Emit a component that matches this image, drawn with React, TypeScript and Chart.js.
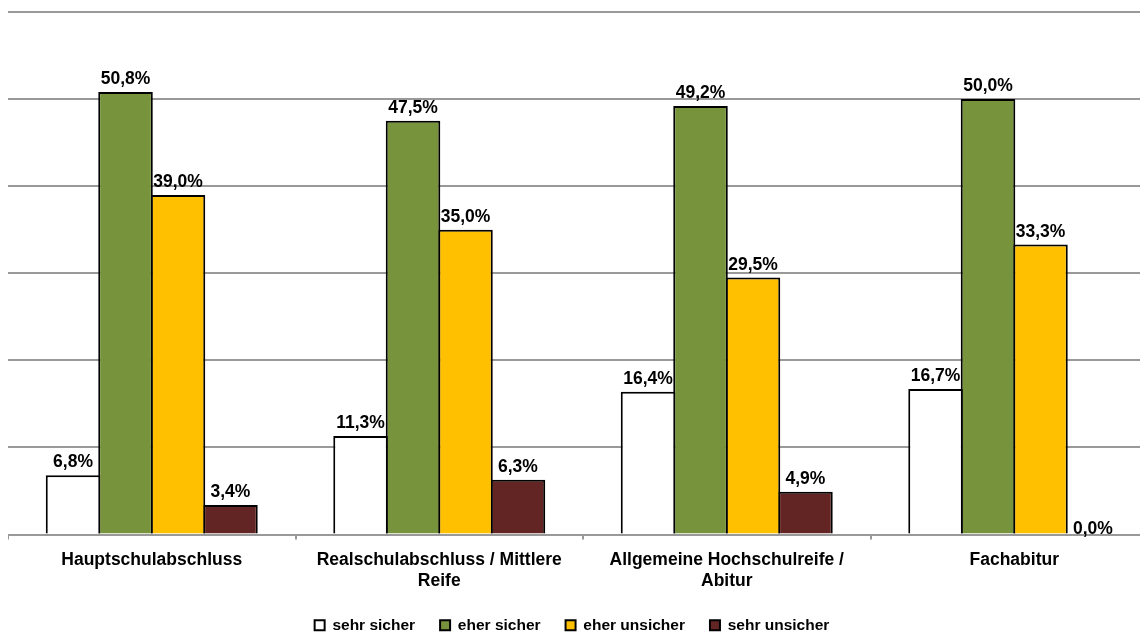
import React, { useEffect, useRef } from "react";
import { Chart, registerables } from "chart.js";

Chart.register(...registerables);

const categories: (string | string[])[] = [
  "Hauptschulabschluss",
  ["Realschulabschluss / Mittlere", "Reife"],
  ["Allgemeine Hochschulreife /", "Abitur"],
  "Fachabitur",
];
const seriesNames = ["sehr sicher", "eher sicher", "eher unsicher", "sehr unsicher"];
const sehrSicher = [6.8, 11.3, 16.4, 16.7];
const eherSicher = [50.8, 47.5, 49.2, 50.0];
const eherUnsicher = [39.0, 35.0, 29.5, 33.3];
const sehrUnsicher = [3.4, 6.3, 4.9, 0.0];
const seriesColors = ["#FFFFFF", "#77933C", "#FFC000", "#632523"];
const yMax = 60;
const yStep = 10;

const FONT = "'Liberation Sans', Arial, Helvetica, sans-serif";

const valueLabels = {
  id: "valueLabels",
  afterDatasetsDraw(chart: any) {
    const ctx = chart.ctx;
    ctx.save();
    ctx.font = `bold 17.5px ${FONT}`;
    ctx.fillStyle = "#000";
    ctx.textAlign = "center";
    ctx.textBaseline = "alphabetic";
    chart.data.datasets.forEach((ds: any, i: number) => {
      const meta = chart.getDatasetMeta(i);
      meta.data.forEach((el: any, j: number) => {
        const v = ds.data[j] as number;
        const txt = v.toFixed(1).replace(".", ",") + "%";
        ctx.fillText(txt, el.x, el.y - (v === 0 ? 1 : 8));
      });
    });
    ctx.restore();
  },
};

const legendShift = {
  id: "legendShift",
  afterLayout(chart: any) {
    const lg = chart.legend;
    if (lg) {
      lg.left -= 11;
      lg.right -= 11;
    }
  },
};

export default function App() {
  const ref = useRef<HTMLCanvasElement | null>(null);

  useEffect(() => {
    if (!ref.current) return;
    const allSeries = [sehrSicher, eherSicher, eherUnsicher, sehrUnsicher];
    const chart = new Chart(ref.current, {
      type: "bar",
      data: {
        labels: categories as any,
        datasets: allSeries.map((d, i) => ({
          label: seriesNames[i],
          data: d,
          backgroundColor: seriesColors[i],
          borderColor: "#000000",
          borderWidth: 2,
          barPercentage: 1.04,
          categoryPercentage: 0.73,
        })),
      },
      options: {
        responsive: false,
        animation: false,
        maintainAspectRatio: false,
        layout: { padding: { top: 4, left: 0, right: 0, bottom: 0 } },
        plugins: {
          tooltip: { enabled: false },
          legend: {
            position: "bottom",
            labels: {
              boxWidth: 10,
              boxHeight: 10,
              padding: 25,
              color: "#000",
              font: { family: FONT, size: 15.5, weight: "bold" },
            },
          },
        },
        scales: {
          x: {
            afterFit: (scale: any) => {
              scale.height = 58;
            },
            grid: {
              offset: true,
              drawOnChartArea: false,
              drawTicks: true,
              tickLength: 5,
              color: "#999999",
              lineWidth: 2,
            },
            border: { display: true, color: "#999999", width: 2 },
            ticks: {
              color: "#000",
              padding: 10.5,
              maxRotation: 0,
              autoSkip: false,
              font: { family: FONT, size: 17.5, weight: "bold" },
            },
          },
          y: {
            min: 0,
            max: yMax,
            ticks: { display: false, stepSize: yStep },
            grid: { color: "#999999", lineWidth: 2, drawTicks: false },
            border: { display: false },
          },
        },
      },
      plugins: [valueLabels, legendShift],
    });
    return () => chart.destroy();
  }, []);

  return (
    <div style={{ width: 1140, height: 625, overflow: "hidden" }}>
      <canvas ref={ref} width={1150} height={635} style={{ display: "block", width: 1150, height: 635 }} />
    </div>
  );
}
